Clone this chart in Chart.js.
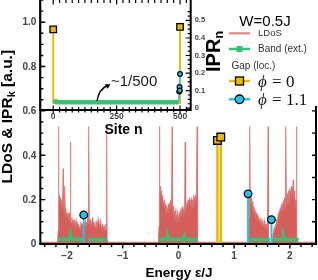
<!DOCTYPE html>
<html>
<head>
<meta charset="UTF-8">
<title>LDoS and IPR</title>
<script src="https://cdn.jsdelivr.net/npm/chart.js"></script>
<style>
  body { margin: 0; background: #fff; }
  #wrap { position: relative; width: 318px; height: 280px; }
  #main, #inset { position: absolute; left: 0; top: 0; }
</style>
</head>
<body>
<div id="wrap">
  <canvas id="main" width="318" height="280"></canvas>
  <canvas id="inset" width="230" height="140"></canvas>
</div>
<script>
// ---- data ----
// local density of states, energy (units of J) and value
const ldosE = [
  -2.48, -2.17,
  // band 1
  -2.158, -2.152, -2.146, -2.136, -2.126, -2.116, -2.106, -2.096, -2.086, -2.076, -2.07, -2.064, -2.054, -2.046, -2.04,
  -2.032, -2.022, -2.012, -2.002, -1.992, -1.982, -1.972, -1.962, -1.952, -1.944, -1.938, -1.932, -1.922, -1.912, -1.902,
  -1.892, -1.882, -1.872, -1.862, -1.852, -1.842, -1.832, -1.822, -1.812, -1.802, -1.792, -1.782, -1.772, -1.762, -1.752,
  -1.742, -1.732, -1.722, -1.712, -1.702, -1.692, -1.682, -1.672, -1.662, -1.652, -1.642, -1.632, -1.622, -1.614, -1.608,
  -1.602, -1.592, -1.582, -1.572, -1.562, -1.552, -1.542, -1.532, -1.522, -1.512, -1.502, -1.492, -1.482, -1.472, -1.462,
  -1.452, -1.442, -1.432, -1.422, -1.412, -1.402, -1.392, -1.382, -1.372, -1.362, -1.352, -1.342, -1.332, -1.322, -1.312,
  -1.302, -1.294, -1.288, -1.282, -1.272,
  // band 2
  -0.36, -0.348, -0.34, -0.334, -0.326, -0.318, -0.31, -0.302, -0.294, -0.286, -0.278, -0.27, -0.262, -0.254, -0.246,
  -0.238, -0.23, -0.222, -0.214, -0.206, -0.198, -0.19, -0.182, -0.174, -0.166, -0.158, -0.15, -0.142, -0.134, -0.126,
  -0.12, -0.115, -0.11, -0.102, -0.094, -0.086, -0.078, -0.07, -0.062, -0.054, -0.046, -0.038, -0.03, -0.022, -0.014,
  -0.006, 0.002, 0.01, 0.018, 0.026, 0.034, 0.042, 0.05, 0.058, 0.066, 0.074, 0.082, 0.09, 0.098, 0.106,
  0.114, 0.12, 0.126, 0.134, 0.142, 0.15, 0.158, 0.166, 0.174, 0.182, 0.19, 0.198, 0.206, 0.214, 0.222,
  0.23, 0.238, 0.246, 0.254, 0.262, 0.27, 0.278, 0.286, 0.294, 0.302, 0.31, 0.318, 0.326, 0.334, 0.34, 0.348,
  // band 3
  1.23, 1.262, 1.272, 1.28, 1.288, 1.296, 1.304, 1.312, 1.32, 1.328, 1.336, 1.344, 1.352, 1.36, 1.368,
  1.376, 1.384, 1.392, 1.4, 1.408, 1.416, 1.424, 1.432, 1.44, 1.448, 1.456, 1.464, 1.472, 1.48, 1.488,
  1.496, 1.504, 1.512, 1.52, 1.528, 1.536, 1.544, 1.552, 1.56, 1.568, 1.576, 1.584, 1.592, 1.602, 1.61,
  1.618, 1.63, 1.66, 1.69, 1.698, 1.706, 1.714, 1.722, 1.73, 1.738, 1.746, 1.754, 1.762, 1.77, 1.778,
  1.786, 1.794, 1.802, 1.81, 1.818, 1.826, 1.834, 1.842, 1.85, 1.858, 1.866, 1.874, 1.882, 1.89, 1.898,
  1.906, 1.914, 1.922, 1.93, 1.938, 1.946, 1.954, 1.962, 1.97, 1.978, 1.986, 1.994, 2.002, 2.01, 2.018,
  2.026, 2.034, 2.042, 2.05, 2.06, 2.068, 2.076, 2.084, 2.092, 2.1, 2.112, 2.12, 2.128, 2.14,
  2.47
];
const ldosV = [
  0.008, 0.008,
  // band 1
  0.06, 0.53, 0.19, 0.22, 0.18, 0.21, 0.17, 0.2, 0.16, 0.2, 0.34, 0.15, 0.17, 0.13, 0.26,
  0.13, 0.16, 0.12, 0.14, 0.11, 0.13, 0.11, 0.14, 0.1, 0.12, 0.46, 0.1, 0.09, 0.12, 0.09,
  0.1, 0.08, 0.11, 0.08, 0.09, 0.07, 0.1, 0.08, 0.09, 0.07, 0.09, 0.07, 0.08, 0.06, 0.1,
  0.08, 0.09, 0.07, 0.09, 0.07, 0.08, 0.07, 0.1, 0.08, 0.09, 0.08, 0.11, 0.09, 0.12, 0.53,
  0.1, 0.08, 0.11, 0.07, 0.09, 0.08, 0.12, 0.09, 0.1, 0.07, 0.08, 0.07, 0.1, 0.07, 0.09,
  0.08, 0.11, 0.09, 0.09, 0.07, 0.1, 0.08, 0.08, 0.06, 0.09, 0.07, 0.08, 0.06, 0.07, 0.06,
  0.09, 0.07, 0.53, 0.02, 0.008,
  // band 2
  0.008, 0.08, 0.53, 0.21, 0.26, 0.2, 0.24, 0.19, 0.22, 0.18, 0.21, 0.17, 0.19, 0.17, 0.2,
  0.15, 0.18, 0.15, 0.17, 0.13, 0.16, 0.14, 0.18, 0.14, 0.17, 0.15, 0.19, 0.15, 0.2, 0.16,
  0.22, 0.53, 0.2, 0.13, 0.17, 0.11, 0.15, 0.1, 0.14, 0.11, 0.16, 0.1, 0.13, 0.11, 0.15,
  0.1, 0.12, 0.11, 0.14, 0.1, 0.15, 0.12, 0.16, 0.12, 0.15, 0.13, 0.17, 0.13, 0.16, 0.14,
  0.18, 0.46, 0.15, 0.13, 0.18, 0.15, 0.19, 0.15, 0.2, 0.16, 0.19, 0.16, 0.21, 0.17, 0.2,
  0.17, 0.21, 0.16, 0.2, 0.17, 0.22, 0.17, 0.21, 0.18, 0.22, 0.18, 0.21, 0.18, 0.53, 0.06, 0.008,
  // band 3
  0.008, 0.01, 0.12, 0.53, 0.2, 0.17, 0.21, 0.16, 0.2, 0.15, 0.19, 0.14, 0.17, 0.14, 0.16,
  0.12, 0.15, 0.12, 0.14, 0.1, 0.13, 0.11, 0.12, 0.1, 0.11, 0.09, 0.1, 0.09, 0.12, 0.08,
  0.1, 0.09, 0.11, 0.08, 0.09, 0.08, 0.1, 0.07, 0.08, 0.07, 0.09, 0.06, 0.07, 0.09, 0.53,
  0.03, 0.008, 0.008, 0.01, 0.04, 0.03, 0.06, 0.05, 0.08, 0.07, 0.09, 0.08, 0.11, 0.09, 0.12,
  0.1, 0.14, 0.12, 0.15, 0.12, 0.16, 0.14, 0.17, 0.14, 0.18, 0.15, 0.19, 0.15, 0.2, 0.17,
  0.21, 0.16, 0.22, 0.53, 0.17, 0.22, 0.18, 0.23, 0.19, 0.24, 0.18, 0.25, 0.2, 0.24, 0.19,
  0.26, 0.2, 0.25, 0.21, 0.29, 0.19, 0.24, 0.17, 0.22, 0.16, 0.2, 0.53, 0.02, 0.008,
  0.008
];
// IPR_k of extended band states (null = gap between segments)
const bandE = [-2.16, -1.95, -1.94, -1.93, -1.71, -1.665, -1.62, -1.28, -0.8,
  -0.36, -0.2, -0.19, -0.18, 0.1, 0.11, 0.12, 0.35, 0.8,
  1.245, 1.64, 1.665, 1.69, 1.88, 1.89, 1.9, 2.16];
const bandIPR = [0.02, 0.022, 0.036, 0.022, 0.02, null, 0.02, 0.02, null,
  0.02, 0.022, 0.03, 0.022, 0.02, 0.03, 0.02, 0.02, null,
  0.02, 0.02, null, 0.02, 0.021, 0.03, 0.021, 0.02];
// localized gap states
const gapE0 = [0.70, 0.76];
const gapIPR0 = [0.467, 0.482];
const gapE11 = [-1.70, 1.25, 1.67];
const gapIPR11 = [0.131, 0.226, 0.11];
// inset: IPR_n against site n
const siteBand = [6, 9, 12, 100, 200, 300, 400, 494];
const iprBand = [0.05, 0.037, 0.033, 0.033, 0.033, 0.033, 0.033, 0.033];
const siteGap0 = [0, 0, 500, 500];
const iprGap0 = [0.449, 0.03, 0.03, 0.463];
const siteGap11 = [495, 497, 498, 499, 500];
const iprGap11 = [0.035, 0.095, 0.12, 0.1, 0.195];
// ticks
const xTicks = [-2, -1, 0, 1, 2];
const yTicks = [0, 0.2, 0.4, 0.6, 0.8, 1.0];
const siteTicks = [0, 250, 500];
const iprTicks = [0, 0.1, 0.2, 0.3, 0.4, 0.5];

const SANS = "'Liberation Sans', Arial, sans-serif";
const SERIF = "'Liberation Serif', 'DejaVu Serif', serif";
const RED = 'rgba(215,100,96,0.85)', RED_FILL = '#d45e5a', GREEN = '#38c172', GOLD = '#ebb900', CYAN = '#22c4ee';
Chart.defaults.font.family = SANS;

function stems(es, vs) {
  return es.flatMap((e, i) => [{x: e, y: 0}, {x: e, y: vs[i]}, {x: e, y: null}]);
}
function pairs(xs, ys) { return xs.map((x, i) => ({x: x, y: ys[i]})); }

function tick(ctx, x1, y1, x2, y2) { ctx.moveTo(x1, y1); ctx.lineTo(x2, y2); }

// left spine + inward ticks, shared by both canvases
function leftSpine(ctx, ys, x, top, bottom) {
  ctx.strokeStyle = '#000';
  ctx.lineWidth = 2;
  ctx.beginPath(); tick(ctx, x, top, x, bottom); ctx.stroke();
  ctx.lineWidth = 1.4;
  ctx.beginPath();
  for (let k = 0; k <= 22; k++) {
    const v = k * 0.05, py = ys.getPixelForValue(v);
    if (py < top || py > bottom) continue;
    tick(ctx, x, py, x + (k % 4 === 0 ? 5 : 3), py);
  }
  ctx.stroke();
}

const mainFrame = {
  id: 'mainFrame',
  afterDraw(chart) {
    const {ctx, chartArea: a, scales: {x, y}} = chart;
    ctx.save();
    // legend area
    ctx.fillStyle = '#fff';
    ctx.fillRect(224, 0, 94, 106);
    leftSpine(ctx, y, a.left, 0, a.bottom);
    ctx.lineWidth = 2;
    ctx.beginPath();
    tick(ctx, a.left - 1, a.bottom, a.right + 1, a.bottom);
    tick(ctx, a.right, a.bottom, a.right, 106);
    ctx.stroke();
    ctx.lineWidth = 1.4;
    ctx.beginPath();
    for (let k = -12; k <= 12; k++) {
      const px = x.getPixelForValue(k * 0.2);
      tick(ctx, px, a.bottom, px, a.bottom + (k % 5 === 0 ? 4.5 : 3));
    }
    for (let k = 1; k <= 6; k++) {
      const py = y.getPixelForValue(k * 0.1);
      tick(ctx, a.right, py, a.right - 4, py);
    }
    ctx.stroke();

    // y tick labels
    ctx.fillStyle = '#444';
    ctx.font = 'bold 10px ' + SANS;
    ctx.textAlign = 'right';
    ctx.textBaseline = 'middle';
    yTicks.forEach(v => ctx.fillText(v === 0 ? '0' : v.toFixed(1), a.left - 4, y.getPixelForValue(v) + 0.5));

    // axis titles
    ctx.fillStyle = '#000';
    ctx.font = 'bold 13.5px ' + SANS;
    ctx.textAlign = 'center';
    ctx.textBaseline = 'alphabetic';
    ctx.fillText('Energy \u03b5/J', 179, 276.5);

    ctx.save();
    ctx.translate(12, 116.7);
    ctx.rotate(-Math.PI / 2);
    const f1 = 'bold 15.5px ' + SANS, f2 = 'bold 11px ' + SANS;
    ctx.font = f1;
    const w1 = ctx.measureText('LDoS & IPR').width, w3 = ctx.measureText(' [a.u.]').width;
    ctx.font = f2;
    const w2 = ctx.measureText('k').width;
    let sx = -(w1 + w2 + w3) / 2;
    ctx.textAlign = 'left';
    ctx.font = f1; ctx.fillText('LDoS & IPR', sx, 0); sx += w1;
    ctx.font = f2; ctx.fillText('k', sx, 2.5); sx += w2;
    ctx.font = f1; ctx.fillText(' [a.u.]', sx, 0);
    ctx.restore();

    // legend
    ctx.textAlign = 'center';
    ctx.font = '15px ' + SANS;
    ctx.fillText('W=0.5J', 265, 25.5);
    const lx1 = 229, lx2 = 250, mx = 239.5, tx = 258;
    function seg(yy, col, w) {
      ctx.strokeStyle = col; ctx.lineWidth = w;
      ctx.beginPath(); tick(ctx, lx1, yy, lx2, yy); ctx.stroke();
    }
    ctx.textAlign = 'left';
    ctx.textBaseline = 'middle';
    ctx.fillStyle = '#333';
    seg(33.3, '#e07b77', 2);
    ctx.font = '9.5px ' + SANS;
    ctx.fillText('LDoS', tx, 33.8);
    seg(49, GREEN, 2.5);
    ctx.fillStyle = GREEN;
    ctx.fillRect(mx - 3, 46, 6, 6);
    ctx.fillStyle = '#333';
    ctx.font = '10px ' + SANS;
    ctx.fillText('Band (ext.)', tx, 49.5);
    ctx.fillText('Gap (loc.)', 231.5, 66);
    seg(81, GOLD, 2.5);
    ctx.fillStyle = GOLD; ctx.strokeStyle = '#000'; ctx.lineWidth = 1.3;
    ctx.fillRect(mx - 4, 77, 8, 8); ctx.strokeRect(mx - 4, 77, 8, 8);
    seg(99.3, CYAN, 2.5);
    ctx.fillStyle = CYAN; ctx.strokeStyle = '#000'; ctx.lineWidth = 1.3;
    ctx.beginPath(); ctx.arc(mx, 99.3, 4.3, 0, 2 * Math.PI); ctx.fill(); ctx.stroke();
    ctx.fillStyle = '#111';
    ctx.textBaseline = 'alphabetic';
    [['0', 86.5], ['1.1', 104.8]].forEach(function (p) {
      ctx.font = 'italic 17px ' + SERIF;
      ctx.fillText('\u03d5', tx, p[1]);
      const w = ctx.measureText('\u03d5').width;
      ctx.font = '17px ' + SERIF;
      ctx.fillText(' = ' + p[0], tx + w + 1, p[1]);
    });
    ctx.restore();
  }
};

const mainChart = new Chart(document.getElementById('main'), {
  type: 'scatter',
  data: {
    datasets: [
      {
        label: 'Gap phi=0',
        data: stems(gapE0, gapIPR0),
        showLine: true, borderColor: GOLD, borderWidth: 2.5,
        pointStyle: 'rect',
        pointRadius: c => (c.dataIndex % 3 === 1 ? 5.4 : 0),
        pointBackgroundColor: GOLD, pointBorderColor: '#000', pointBorderWidth: 1.3,
        order: 0
      },
      {
        label: 'Gap phi=1.1',
        data: stems(gapE11, gapIPR11),
        showLine: true, borderColor: CYAN, borderWidth: 2,
        pointRadius: c => (c.dataIndex % 3 === 1 ? 3.8 : 0),
        pointBackgroundColor: CYAN, pointBorderColor: '#000', pointBorderWidth: 1.3,
        order: 1
      },
      {
        label: 'Band (ext.)',
        data: pairs(bandE, bandIPR),
        showLine: true, borderColor: GREEN, borderWidth: 3.5, pointRadius: 0,
        order: 2
      },
      {
        label: 'LDoS',
        data: pairs(ldosE, ldosV),
        showLine: true, borderColor: RED, borderWidth: 1.1, pointRadius: 0,
        fill: 'origin', backgroundColor: RED_FILL,
        order: 3
      }
    ]
  },
  options: {
    responsive: false,
    animation: false,
    layout: {autoPadding: false, padding: {left: 0, right: 2, top: 0, bottom: 0}},
    plugins: {legend: {display: false}, tooltip: {enabled: false}},
    scales: {
      x: {
        type: 'linear', min: -2.48, max: 2.47,
        afterFit: s => { s.height = 36; },
        afterBuildTicks: s => { s.ticks = xTicks.map(v => ({value: v})); },
        grid: {display: false, drawTicks: false},
        border: {display: false},
        ticks: {
          autoSkip: false, padding: 6, color: '#444', font: {size: 10, weight: 'bold'},
          callback: v => (v < 0 ? '\u2212' + Math.abs(v) : String(v))
        }
      },
      y: {
        min: 0, max: 1.1,
        afterFit: s => { s.width = 40.3; },
        grid: {display: false, drawTicks: false},
        border: {display: false},
        ticks: {display: false}
      }
    }
  },
  plugins: [mainFrame]
});

const insetFrame = {
  id: 'insetFrame',
  beforeDraw(chart) {
    const {ctx, chartArea: a} = chart;
    ctx.save();
    ctx.fillStyle = '#fff';
    ctx.fillRect(a.left, 0, a.right - a.left, a.bottom);
    ctx.restore();
  },
  afterDraw(chart) {
    const {ctx, chartArea: a, scales: {x, y}} = chart;
    ctx.save();
    leftSpine(ctx, mainChart.scales.y, a.left, 0, a.bottom);
    ctx.lineWidth = 2;
    ctx.beginPath();
    tick(ctx, a.left - 1, a.bottom, a.right + 1, a.bottom);
    tick(ctx, a.right, 0, a.right, a.bottom);
    ctx.stroke();
    ctx.lineWidth = 1.2;
    ctx.beginPath();
    for (let k = 0; k <= 21; k++) {
      const px = x.getPixelForValue(k * 25), major = k % 10 === 0;
      tick(ctx, px, a.bottom - (major ? 4.5 : 3), px, a.bottom + (major ? 3.5 : 2.5));
      tick(ctx, px, 0, px, major ? 4.5 : 3);
    }
    for (let k = 0; k <= 22; k++) {
      const py = y.getPixelForValue(k * 0.025);
      tick(ctx, a.right, py, a.right - (k % 4 === 0 ? 5 : 3), py);
    }
    ctx.stroke();

    // ~1/500 annotation
    ctx.fillStyle = '#1a1a1a';
    ctx.font = '15px ' + SANS;
    ctx.textAlign = 'left';
    ctx.textBaseline = 'alphabetic';
    ctx.fillText('~1/500', 111, 85.5);
    ctx.strokeStyle = '#000';
    ctx.lineWidth = 1.4;
    ctx.beginPath();
    ctx.moveTo(97, 101);
    ctx.quadraticCurveTo(99, 89, 107.5, 85.5);
    ctx.stroke();
    ctx.fillStyle = '#000';
    ctx.beginPath();
    ctx.moveTo(110.5, 84.2);
    ctx.lineTo(104.8, 84.3);
    ctx.lineTo(107.6, 88.8);
    ctx.closePath();
    ctx.fill();

    // Site n
    ctx.font = 'bold 14px ' + SANS;
    ctx.textAlign = 'center';
    ctx.fillText('Site n', 123.5, 134);

    // IPR_n
    ctx.save();
    ctx.translate(219.5, 72);
    ctx.rotate(-Math.PI / 2);
    ctx.textAlign = 'left';
    ctx.font = 'bold 20px ' + SANS;
    ctx.fillText('IPR', 0, 0);
    const w = ctx.measureText('IPR').width;
    ctx.font = 'bold 13px ' + SANS;
    ctx.fillText('n', w, 3);
    ctx.restore();
    ctx.restore();
  }
};

new Chart(document.getElementById('inset'), {
  type: 'scatter',
  data: {
    datasets: [
      {
        label: 'phi=1.1',
        data: pairs(siteGap11, iprGap11),
        showLine: true, borderColor: CYAN, borderWidth: 1.5,
        pointRadius: c => (iprGap11[c.dataIndex] > 0.06 ? 2.4 : 0),
        pointBackgroundColor: CYAN, pointBorderColor: '#000', pointBorderWidth: 1.2,
        order: 0
      },
      {
        label: 'band',
        data: pairs(siteBand, iprBand),
        showLine: true, borderColor: GREEN, borderWidth: 4.5, pointRadius: 0,
        order: 1
      },
      {
        label: 'phi=0',
        data: pairs(siteGap0, iprGap0),
        showLine: true, borderColor: GOLD, borderWidth: 2,
        pointStyle: 'rect',
        pointRadius: c => (c.dataIndex === 0 || c.dataIndex === 3 ? 4.6 : 0),
        pointBackgroundColor: GOLD, pointBorderColor: '#000', pointBorderWidth: 1.3,
        order: 2
      }
    ]
  },
  options: {
    responsive: false,
    animation: false,
    layout: {autoPadding: false, padding: {left: 40.3, right: 0, top: 0, bottom: 0}},
    plugins: {legend: {display: false}, tooltip: {enabled: false}},
    scales: {
      x: {
        type: 'linear', min: -51, max: 542,
        afterFit: s => { s.height = 30; },
        afterBuildTicks: s => { s.ticks = siteTicks.map(v => ({value: v})); },
        grid: {display: false, drawTicks: false},
        border: {display: false},
        ticks: {autoSkip: false, padding: 2, color: '#444', font: {size: 8.5, weight: 'bold'}}
      },
      y: {
        position: 'right', min: -0.0105, max: 0.568,
        afterFit: s => { s.width = 230 - 190.7; },
        afterBuildTicks: s => { s.ticks = iprTicks.map(v => ({value: v})); },
        grid: {display: false, drawTicks: false},
        border: {display: false},
        ticks: {
          autoSkip: false, padding: 4, color: '#444', font: {size: 7.5, weight: 'bold'},
          callback: v => (v === 0 ? '0' : v.toFixed(1))
        }
      }
    }
  },
  plugins: [insetFrame]
});
</script>
</body>
</html>
